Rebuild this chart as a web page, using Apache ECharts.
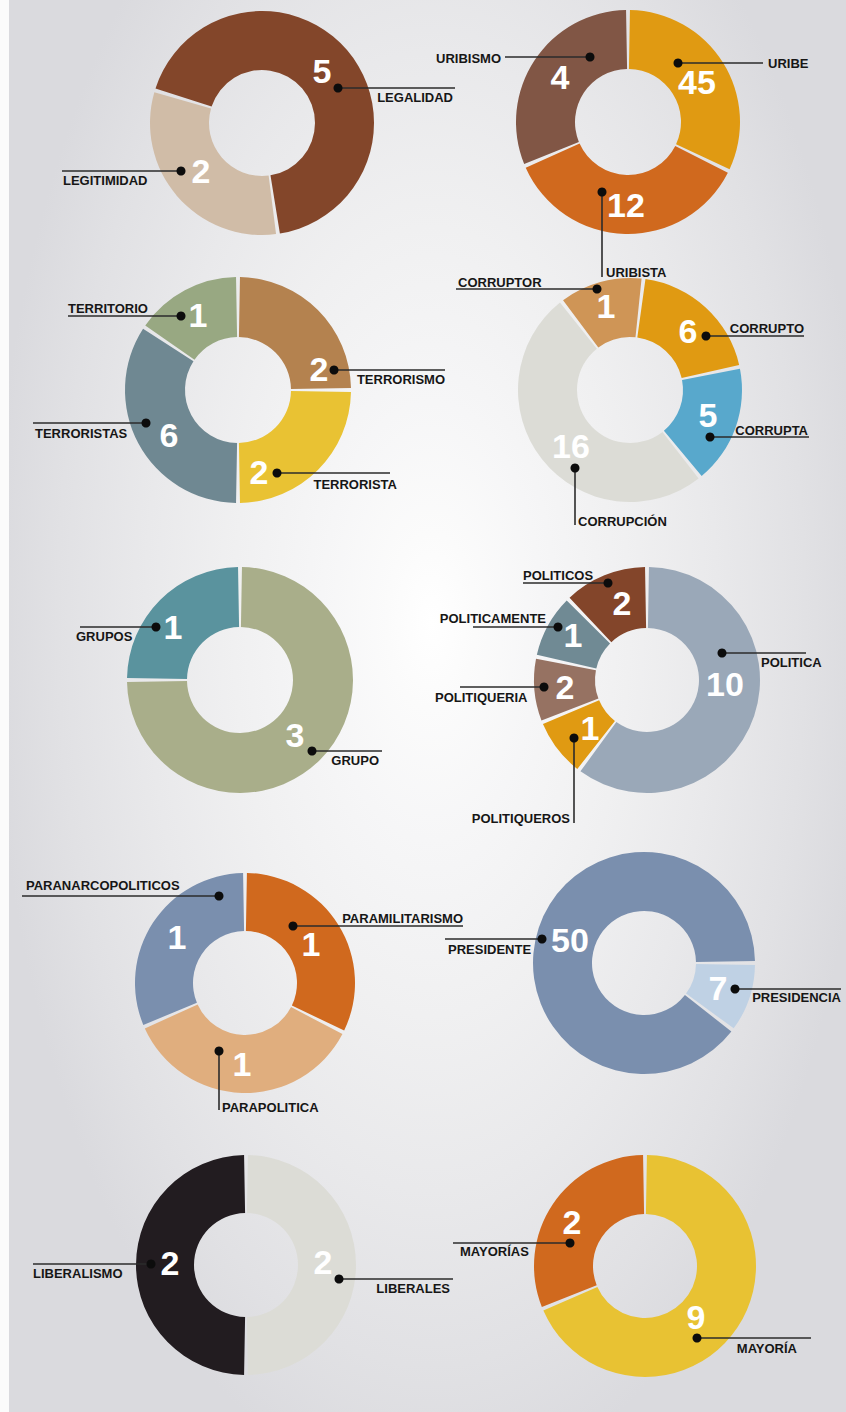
<!DOCTYPE html>
<html>
<head>
<meta charset="utf-8">
<script src="https://cdn.jsdelivr.net/npm/echarts@6/dist/echarts.min.js"></script>
<style>
  html, body { margin: 0; padding: 0; background: #ffffff; }
  #wrap {
    position: relative; width: 846px; height: 1412px; overflow: hidden;
    background: radial-gradient(ellipse 52% 62% at 51% 44%,
      #ffffff 0%, #fbfbfb 10%, #f6f6f7 25%, #f0f0f1 45%, #e9e9eb 65%, #e1e1e4 85%, #dadade 100%);
  }
  #strip { position: absolute; left: 0; top: 0; width: 9px; height: 100%; background: #fbfbfb; }
  #main { position: absolute; left: 0; top: 0; width: 846px; height: 1412px; }
</style>
</head>
<body>
<div id="wrap"><div id="strip"></div><div id="main"></div></div>
<script>
// ---------------- DATA ----------------
// counts = numbers printed on the rings; shares = share of the ring each slice occupies (%)
const legalidadNames  = ['LEGALIDAD', 'LEGITIMIDAD'];
const legalidadCounts = [5, 2];
const legalidadShares = [68, 32];

const uribeNames  = ['URIBE', 'URIBISTA', 'URIBISMO'];
const uribeCounts = [45, 12, 4];
const uribeShares = [32.2, 36.4, 31.4];

const terrorNames  = ['TERRORISMO', 'TERRORISTA', 'TERRORISTAS', 'TERRITORIO'];
const terrorCounts = [2, 2, 6, 1];
const terrorShares = [25, 25, 34.4, 15.6];

const corrupNames  = ['CORRUPTOR', 'CORRUPTO', 'CORRUPTA', 'CORRUPCIÓN'];
const corrupCounts = [1, 6, 5, 16];
const corrupShares = [12.4, 19.75, 17.55, 50.3];

const grupoNames  = ['GRUPO', 'GRUPOS'];
const grupoCounts = [3, 1];
const grupoShares = [75, 25];

const politicaNames  = ['POLITICA', 'POLITIQUEROS', 'POLITIQUERIA', 'POLITICAMENTE', 'POLITICOS'];
const politicaCounts = [10, 1, 2, 1, 2];
const politicaShares = [60.3, 8.6, 9.4, 9.4, 12.3];

const paraNames  = ['PARAMILITARISMO', 'PARAPOLITICA', 'PARANARCOPOLITICOS'];
const paraCounts = [1, 1, 1];
const paraShares = [32.4, 36.1, 31.5];

const presNames  = ['PRESIDENCIA', 'PRESIDENTE'];
const presCounts = [7, 50];
const presShares = [10.3, 89.7];

const liberalNames  = ['LIBERALES', 'LIBERALISMO'];
const liberalCounts = [2, 2];
const liberalShares = [50, 50];

const mayoriaNames  = ['MAYORÍA', 'MAYORÍAS'];
const mayoriaCounts = [9, 2];
const mayoriaShares = [68.7, 31.3];

// ---------------- STYLES ----------------
const legalidadColors = ['#83462a', '#d0bca7'];
const uribeColors     = ['#e09a12', '#d0691e', '#815645'];
const terrorColors    = ['#b4824f', '#e9c233', '#6f8892', '#98a882'];
const corrupColors    = ['#cf9556', '#e09a12', '#58a8cc', '#dcdcd6'];
const grupoColors     = ['#a9ae8a', '#5a939e'];
const politicaColors  = ['#9aa8b8', '#e09a12', '#967262', '#708a94', '#83452a'];
const paraColors      = ['#d0691e', '#e0ae7e', '#7a8fae'];
const presColors      = ['#bfd1e4', '#7a8fae'];
const liberalColors   = ['#dcdcd6', '#221c20'];
const mayoriaColors   = ['#e8c233', '#d0691e'];

// annotation placement, offsets (px) from each ring's centre
const legalidadNotes = [
  {num: [60, -52], dot: [76, -35], end: [193, -35], text: [191, -26], align: 'right'},
  {num: [-61, 48], dot: [-81, 48], end: [-200, 48], text: [-199, 57], align: 'left'}
];
const uribeNotes = [
  {num: [69, -40], dot: [50, -59], end: [135, -59], text: [140, -59], align: 'left'},
  {num: [-2, 83], dot: [-26, 70], end: [-26, 155], text: [-22, 150], align: 'left'},
  {num: [-68, -45], dot: [-38, -65], end: [-123, -65], text: [-127, -64], align: 'right'}
];
const terrorNotes = [
  {num: [81, -21], dot: [96, -20], end: [207, -20], text: [207, -11], align: 'right'},
  {num: [21, 82], dot: [39, 83], end: [152, 83], text: [159, 94], align: 'right'},
  {num: [-69, 45], dot: [-92, 33], end: [-205, 33], text: [-203, 43], align: 'left'},
  {num: [-40, -75], dot: [-57, -74], end: [-170, -74], text: [-170, -82], align: 'left'}
];
const corrupNotes = [
  {num: [-24, -84], dot: [-33, -101], end: [-174, -101], text: [-172, -108], align: 'left'},
  {num: [58, -59], dot: [76, -54], end: [174, -54], text: [174, -62], align: 'right'},
  {num: [78, 25], dot: [80, 47], end: [179, 47], text: [178, 40], align: 'right'},
  {num: [-59, 56], dot: [-55, 78], end: [-55, 135], text: [-52, 131], align: 'left'}
];
const grupoNotes = [
  {num: [55, 55], dot: [72, 71], end: [142, 71], text: [139, 80], align: 'right'},
  {num: [-67, -53], dot: [-84, -53], end: [-160, -53], text: [-164, -44], align: 'left'}
];
const politicaNotes = [
  {num: [78, 4], dot: [75, -27], end: [159, -27], text: [114, -18], align: 'left'},
  {num: [-57, 48], dot: [-73, 58], end: [-73, 143], text: [-77, 138], align: 'right'},
  {num: [-82, 7], dot: [-103, 7], end: [-187, 7], text: [-212, 17], align: 'left'},
  {num: [-74, -45], dot: [-89, -53], end: [-174, -53], text: [-101, -62], align: 'right'},
  {num: [-25, -77], dot: [-39, -97], end: [-124, -97], text: [-124, -105], align: 'left'}
];
const paraNotes = [
  {num: [66, -39], dot: [48, -57], end: [218, -57], text: [218, -65], align: 'right'},
  {num: [-3, 81], dot: [-26, 68], end: [-26, 127], text: [-23, 124], align: 'left'},
  {num: [-68, -46], dot: [-26, -87], end: [-223, -87], text: [-219, -98], align: 'left'}
];
const presNotes = [
  {num: [74, 25], dot: [91, 26], end: [197, 26], text: [197, 34], align: 'right'},
  {num: [-74, -23], dot: [-102, -24], end: [-199, -24], text: [-196, -14], align: 'left'}
];
const liberalNotes = [
  {num: [77, -3], dot: [93, 14], end: [207, 14], text: [204, 23], align: 'right'},
  {num: [-76, -2], dot: [-95, -1], end: [-213, -1], text: [-213, 8], align: 'left'}
];
const mayoriaNotes = [
  {num: [51, 51], dot: [52, 72], end: [166, 72], text: [152, 82], align: 'right'},
  {num: [-73, -44], dot: [-75, -23], end: [-192, -23], text: [-185, -15], align: 'left'}
];

const charts = [
  {names: legalidadNames, counts: legalidadCounts, shares: legalidadShares, colors: legalidadColors, notes: legalidadNotes, center: [262, 123], radius: [53, 112], startAngle: 163},
  {names: uribeNames, counts: uribeCounts, shares: uribeShares, colors: uribeColors, notes: uribeNotes, center: [628, 122], radius: [53, 112], startAngle: 90},
  {names: terrorNames, counts: terrorCounts, shares: terrorShares, colors: terrorColors, notes: terrorNotes, center: [238, 390], radius: [53, 113], startAngle: 90},
  {names: corrupNames, counts: corrupCounts, shares: corrupShares, colors: corrupColors, notes: corrupNotes, center: [630, 390], radius: [53, 112], startAngle: 127.7},
  {names: grupoNames, counts: grupoCounts, shares: grupoShares, colors: grupoColors, notes: grupoNotes, center: [240, 680], radius: [53, 113], startAngle: 90},
  {names: politicaNames, counts: politicaCounts, shares: politicaShares, colors: politicaColors, notes: politicaNotes, center: [647, 680], radius: [52, 113], startAngle: 90},
  {names: paraNames, counts: paraCounts, shares: paraShares, colors: paraColors, notes: paraNotes, center: [245, 983], radius: [52, 110], startAngle: 90},
  {names: presNames, counts: presCounts, shares: presShares, colors: presColors, notes: presNotes, center: [644, 963], radius: [52, 111], startAngle: 0},
  {names: liberalNames, counts: liberalCounts, shares: liberalShares, colors: liberalColors, notes: liberalNotes, center: [246, 1265], radius: [52, 110], startAngle: 90},
  {names: mayoriaNames, counts: mayoriaCounts, shares: mayoriaShares, colors: mayoriaColors, notes: mayoriaNotes, center: [645, 1266], radius: [52, 111], startAngle: 90}
];

const chart = echarts.init(document.getElementById('main'), null, {renderer: 'svg', width: 846, height: 1412});

chart.setOption({
  animation: false,
  backgroundColor: 'transparent',
  series: charts.map(c => ({
    type: 'pie',
    center: c.center,
    radius: c.radius,
    startAngle: c.startAngle,
    clockwise: true,
    padAngle: 2,
    silent: true,
    avoidLabelOverlap: false,
    label: {show: false},
    labelLine: {show: false},
    emphasis: {disabled: true},
    itemStyle: {borderWidth: 0},
    data: c.names.map((n, i) => ({name: n, value: c.shares[i], itemStyle: {color: c.colors[i]}}))
  }))
});

// annotations: numbers, dots, leader lines, names – anchored on each ring's centre from the library layout
const model = chart.getModel ? chart.getModel() : null;
const lines = [], dots = [], texts = [];
const NUM_FONT = 'bold 34px "Liberation Sans", Arial, Helvetica, sans-serif';
const LBL_FONT = 'bold 13px "Liberation Sans", Arial, Helvetica, sans-serif';
charts.forEach((c, k) => {
  let cx = c.center[0], cy = c.center[1];
  try {
    const lay = model.getSeriesByIndex(k).getData().getItemLayout(0);
    if (lay && isFinite(lay.cx) && isFinite(lay.cy)) { cx = lay.cx; cy = lay.cy; }
  } catch (e) {}
  c.notes.forEach((n, i) => {
    lines.push({type: 'line', z: 100, silent: true,
      shape: {x1: cx + n.dot[0], y1: cy + n.dot[1], x2: cx + n.end[0], y2: cy + n.end[1]},
      style: {stroke: '#2b2b2b', lineWidth: 1.6}});
    dots.push({type: 'circle', z: 101, silent: true,
      shape: {cx: cx + n.dot[0], cy: cy + n.dot[1], r: 4.5},
      style: {fill: '#0c0c0c'}});
    texts.push({type: 'text', z: 102, silent: true,
      x: cx + n.num[0], y: cy + n.num[1],
      style: {text: String(c.counts[i]), font: NUM_FONT, fill: '#ffffff',
        align: 'center', verticalAlign: 'middle', textAlign: 'center', textVerticalAlign: 'middle'}});
    texts.push({type: 'text', z: 102, silent: true,
      x: cx + n.text[0], y: cy + n.text[1],
      style: {text: c.names[i], font: LBL_FONT, fill: '#161616',
        align: n.align, verticalAlign: 'middle', textAlign: n.align, textVerticalAlign: 'middle'}});
  });
});
chart.setOption({graphic: {elements: lines.concat(dots, texts)}});
</script>
</body>
</html>
